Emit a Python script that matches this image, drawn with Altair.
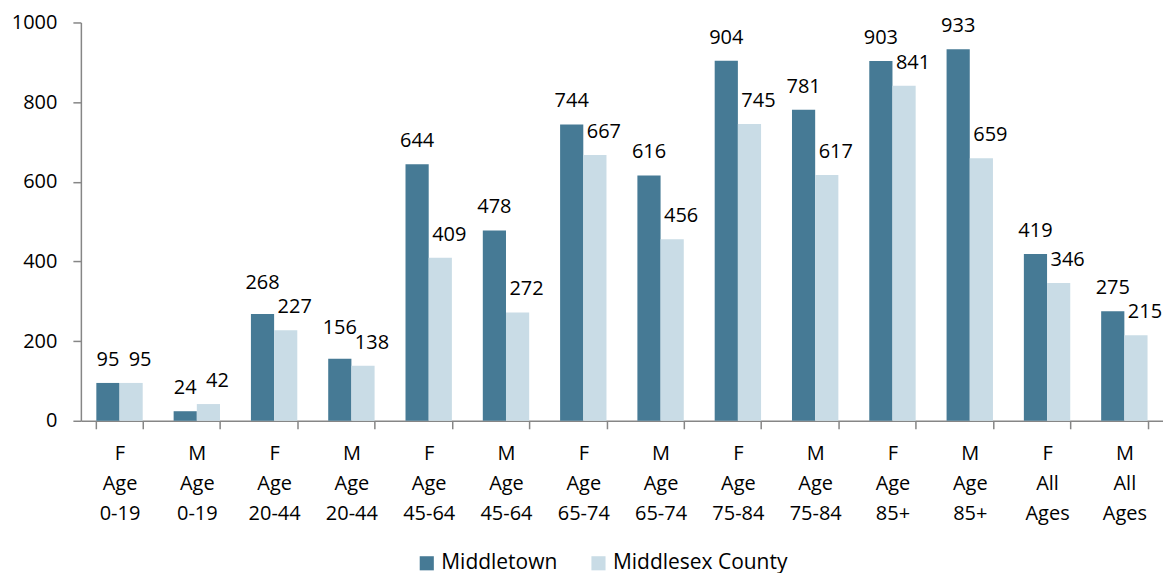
import altair as alt
import pandas as pd

sexes = ["F", "M", "F", "M", "F", "M", "F", "M", "F", "M", "F", "M", "F", "M"]
ages = ["Age\n0-19", "Age\n0-19", "Age\n20-44", "Age\n20-44", "Age\n45-64", "Age\n45-64",
        "Age\n65-74", "Age\n65-74", "Age\n75-84", "Age\n75-84", "Age\n85+", "Age\n85+",
        "All\nAges", "All\nAges"]
middletown = [95, 24, 268, 156, 644, 478, 744, 616, 904, 781, 903, 933, 419, 275]
county = [95, 42, 227, 138, 409, 272, 667, 456, 745, 617, 841, 659, 346, 215]
series = ["Middletown", "Middlesex County"]
colors = ["#467A95", "#C9DCE6"]

cats = [f"{s}\n{a}" for s, a in zip(sexes, ages)]
rows = []
for c, m, k in zip(cats, middletown, county):
    # labels of the first series are lifted when they would collide with the second's
    crowded = 0 < m - k < 45
    rows.append({"cat": c, "series": series[0], "value": m, "crowded": crowded})
    rows.append({"cat": c, "series": series[1], "value": k, "crowded": False})
df = pd.DataFrame(rows)

FONT = "Open Sans"
AX = "#868686"

x = alt.X("cat:N", sort=cats, title=None,
          scale=alt.Scale(paddingInner=0.4, paddingOuter=0.2),
          axis=alt.Axis(labelExpr="split(datum.label, '\\n')", labelAngle=0,
                        labelFontSize=20, labelFont=FONT, labelColor="#000000",
                        labelLineHeight=30, labelPadding=15, tickBand="extent",
                        tickSize=8, tickColor=AX, domainColor=AX, tickWidth=1.5,
                        domainWidth=1.5, labelBaseline="top"))
xo = alt.XOffset("series:N", sort=series)
y = alt.Y("value:Q", title=None,
          scale=alt.Scale(domain=[0, 1000], nice=False),
          axis=alt.Axis(values=[0, 200, 400, 600, 800, 1000], grid=False, format="d",
                        labelFontSize=20, labelFont=FONT, labelColor="#000000",
                        tickSize=8, labelPadding=16, tickColor=AX, domainColor=AX,
                        tickWidth=1.5, domainWidth=1.5))

base = alt.Chart(df)
bars = base.mark_bar().encode(
    x=x, xOffset=xo, y=y,
    color=alt.Color("series:N", sort=series,
                    scale=alt.Scale(domain=series, range=colors),
                    legend=alt.Legend(title=None, orient="none", legendX=336, legendY=531,
                                      direction="horizontal", symbolType="square",
                                      symbolSize=200, symbolStrokeWidth=0,
                                      labelFontSize=21, labelFont=FONT, labelColor="#000000",
                                      labelLimit=0, columnPadding=30, labelOffset=4)),
)
tstyle = dict(baseline="alphabetic", fontSize=20, font=FONT, color="#000000")
dark_lab = base.transform_filter(
    (alt.datum.series == series[0]) & (alt.datum.crowded == False)
).mark_text(dy=-17, **tstyle).encode(x=x, xOffset=xo, y=y, text="value:Q")
dark_up = base.transform_filter(
    (alt.datum.series == series[0]) & (alt.datum.crowded == True)
).mark_text(dy=-25, **tstyle).encode(x=x, xOffset=xo, y=y, text="value:Q")
light_lab = base.transform_filter(
    alt.datum.series == series[1]
).mark_text(dy=-17, dx=9, **tstyle).encode(x=x, xOffset=xo, y=y, text="value:Q")

chart = (bars + dark_lab + dark_up + light_lab).properties(
    width=1084, height=399,
    autosize=alt.AutoSizeParams(type="none"),
    padding={"left": 73, "top": 14, "right": 0, "bottom": 160},
    background="#ffffff",
).configure_view(stroke=None)

chart.save("out.html", embed_options={"renderer": "svg", "actions": False})
